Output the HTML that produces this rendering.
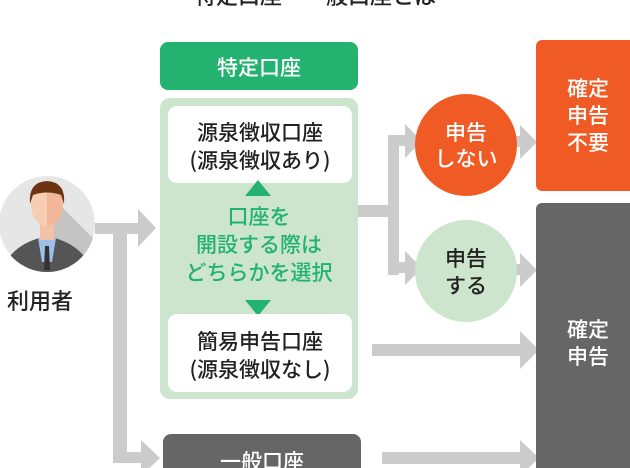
<!DOCTYPE html>
<html><head><meta charset="utf-8"><style>
body{margin:0;width:630px;height:468px;overflow:hidden;background:#fff;font-family:"Liberation Sans","Noto Sans CJK JP",sans-serif;}
</style></head><body>
<svg width="630" height="468" xmlns="http://www.w3.org/2000/svg" style="position:absolute;left:0;top:0">
<defs><clipPath id="c"><circle cx="47" cy="224" r="48"/></clipPath></defs>
<g font-family="Noto Sans CJK JP, sans-serif" font-weight="500">
<text x="315" y="4" font-size="22" text-anchor="middle" fill="#222">特定口座・一般口座とは</text>
<g fill="#cbcbcb">
<rect x="95" y="223" width="45" height="11"/>
<polygon points="138,209 156,228 138,247"/>
<rect x="113" y="223" width="14" height="240"/>
<rect x="113" y="452" width="30" height="11"/>
<polygon points="141,440 160,458 141,476"/>
<rect x="358" y="205" width="40" height="12"/>
<rect x="388" y="140" width="11" height="135"/>
<rect x="388" y="135" width="20" height="11"/>
<polygon points="405,124 422,141 405,158"/>
<rect x="388" y="262" width="20" height="11"/>
<polygon points="405,251 422,268 405,285"/>
<rect x="505" y="136" width="18" height="11"/>
<polygon points="520,125 537,142 520,159"/>
<rect x="505" y="264" width="18" height="11"/>
<polygon points="520,253 537,270 520,287"/>
<rect x="372" y="344" width="150" height="12"/>
<polygon points="520,331 539,350 520,369"/>
<rect x="382" y="452" width="140" height="12"/>
<polygon points="520,440 539,458 520,476"/>
</g>
<g clip-path="url(#c)">
<circle cx="47" cy="224" r="48" fill="#e6e6e6"/>
<polygon points="55,200 120,265 80,300 40,260" fill="#c4c4c4"/>
<path d="M0,280 Q5,245 47,236 Q89,245 94,280Z" fill="#555"/>
</g>
<polygon points="38,238 56,238 52,262 42,262" fill="#9cc2e8"/>
<polygon points="45,246 49,246 50,270 44,270" fill="#333"/>
<rect x="40" y="222" width="14" height="18" fill="#f3c2a6"/>
<ellipse cx="47" cy="205" rx="16" ry="21" fill="#f7cdb3"/>
<path d="M47,184 A16,21 0 0 1 47,226Z" fill="#f2b798"/>
<path d="M30,204 Q28,182 47,181 Q66,182 64,204 L61,195 Q47,190 33,195Z" fill="#6b3514"/>
<text x="40" y="309" font-size="22" text-anchor="middle" fill="#222">利用者</text>
<rect x="160" y="42" width="198" height="48" rx="8" fill="#23b26f"/>
<text x="259" y="75" font-size="21" text-anchor="middle" fill="#fff">特定口座</text>
<rect x="160" y="98" width="198" height="301" rx="10" fill="#cce5cc"/>
<rect x="168" y="106" width="184" height="77" rx="9" fill="#fff"/>
<text x="260" y="140" font-size="21" text-anchor="middle" fill="#222">源泉徴収口座</text>
<text x="260" y="168" font-size="21" text-anchor="middle" fill="#222">(源泉徴収あり)</text>
<polygon points="258,180 271,196 245,196" fill="#23b26f"/>
<text x="259" y="224" font-size="21" text-anchor="middle" fill="#23b26f">口座を</text>
<text x="259" y="252" font-size="21" text-anchor="middle" fill="#23b26f">開設する際は</text>
<text x="259" y="280" font-size="21" text-anchor="middle" fill="#23b26f">どちらかを選択</text>
<polygon points="245,300 271,300 258,316" fill="#23b26f"/>
<rect x="168" y="314" width="184" height="78" rx="9" fill="#fff"/>
<text x="260" y="349" font-size="21" text-anchor="middle" fill="#222">簡易申告口座</text>
<text x="260" y="377" font-size="21" text-anchor="middle" fill="#222">(源泉徴収なし)</text>
<rect x="163" y="434" width="198" height="50" rx="8" fill="#666"/>
<text x="262" y="469" font-size="21" text-anchor="middle" fill="#fff">一般口座</text>
<circle cx="466" cy="145" r="51" fill="#f05a24"/>
<text x="466" y="140" font-size="21" text-anchor="middle" fill="#fff">申告</text>
<text x="466" y="166" font-size="21" text-anchor="middle" fill="#fff">しない</text>
<circle cx="466" cy="271" r="51" fill="#cce5cc"/>
<text x="466" y="266" font-size="21" text-anchor="middle" fill="#222">申告</text>
<text x="466" y="293" font-size="21" text-anchor="middle" fill="#222">する</text>
<rect x="536" y="40" width="110" height="151" rx="6" fill="#f05a24"/>
<text x="588" y="96" font-size="21" text-anchor="middle" fill="#fff">確定</text>
<text x="588" y="123" font-size="21" text-anchor="middle" fill="#fff">申告</text>
<text x="588" y="150" font-size="21" text-anchor="middle" fill="#fff">不要</text>
<rect x="536" y="203" width="110" height="280" rx="6" fill="#666"/>
<text x="588" y="337" font-size="21" text-anchor="middle" fill="#fff">確定</text>
<text x="588" y="364" font-size="21" text-anchor="middle" fill="#fff">申告</text>
</g>
</svg>
</body></html>
